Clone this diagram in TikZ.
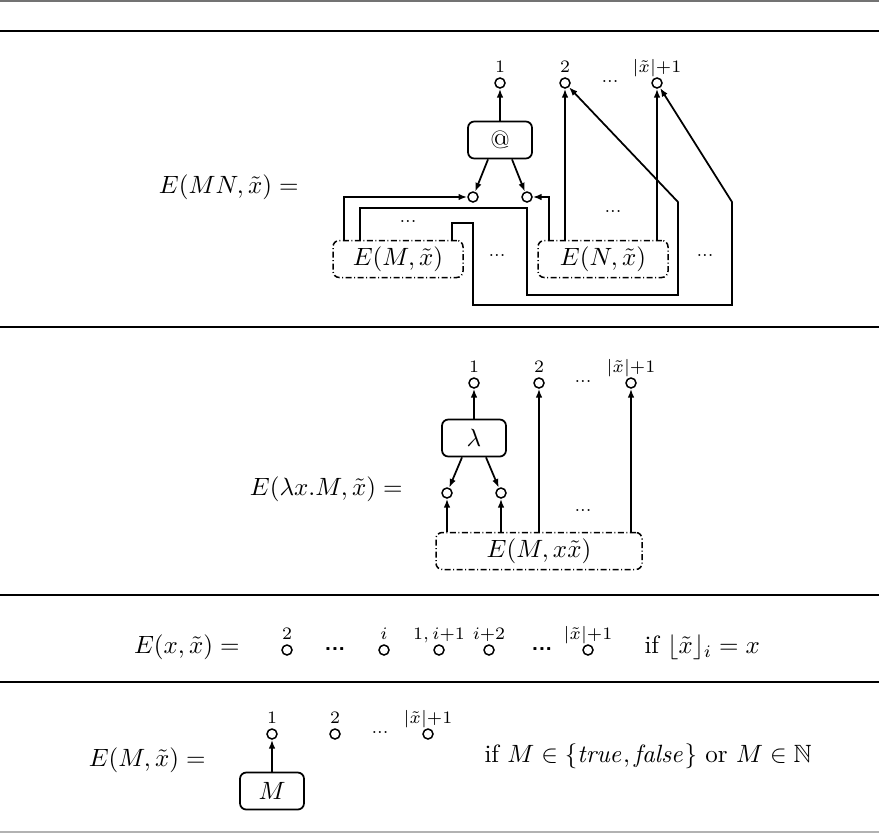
\documentclass[tikz,border=0pt]{standalone}
\usepackage{amsmath,amssymb}
\usetikzlibrary{arrows.meta,calc}

\begin{document}
\begin{tikzpicture}[
  x=0.4pt, y=-0.4pt,
  label distance=1.8pt,
  port/.style={circle, draw, line width=0.6pt, minimum size=4pt, inner sep=0pt},
  lbl/.style={font=\scriptsize, inner sep=0pt, text depth=0pt},
  gate/.style={draw, rounded corners=2.5pt, line width=0.7pt, minimum width=25.6pt,
    minimum height=14.8pt, inner sep=0pt},
  sub/.style={draw, rounded corners=2.5pt, line width=0.6pt,
    dash pattern=on 2.4pt off 1pt on 0.4pt off 1pt, minimum height=14.8pt, inner sep=0pt},
  arrow/.style={-{Latex[length=3.5pt,width=2.6pt]}, line width=0.7pt},
  gap/.style={font=\scriptsize, inner sep=0pt},
  bolddots/.style={font=\small\sffamily\bfseries, inner sep=0pt},
  eqn/.style={inner sep=0pt},
  rule/.style={line width=0.8pt},
]
  \useasboundingbox (0,0) rectangle (879,834);

  % rules between the cases
  \draw[line width=1pt, black!55] (0,1) -- (879,1);
  \draw[rule] (0,31) -- (879,31);
  \draw[rule] (0,327) -- (879,327);
  \draw[rule] (0,595) -- (879,595);
  \draw[rule] (0,682) -- (879,682);
  \draw[line width=0.8pt, black!30] (0,832) -- (879,832);

  % application
  \node[eqn, anchor=east] (eapp) at (299,187) {$E(MN,\tilde{x}) =$};
  \node[port, label={[lbl]above:$1$}] (c1) at (500,83) {};
  \node[port, label={[lbl]above:$2$}] (c2) at (565,83) {};
  \node[gap] (cdots) at (610,81) {...};
  \node[port, label={[lbl]above:$|\tilde{x}|{+}1$}] (cn) at (657,83) {};
  \node[gate] (app) at (500,140) {@};
  \node[port] (cl) at (473,197) {};
  \node[port] (cr) at (527,197) {};
  \node[sub, minimum width=52pt] (em) at (398,259) {$E(M,\tilde{x})$};
  \node[sub, minimum width=52pt] (en) at (603,259) {$E(N,\tilde{x})$};
  \node[gap] (mdots) at (408,221) {...};
  \node[gap] (bdots) at (497,255) {...};
  \node[gap] (ndots) at (613,211) {...};
  \node[gap] (rdots) at (705,255) {...};
  \coordinate (k1) at (527,208);
  \coordinate (k2) at (678,295);
  \coordinate (k3) at (678,202);
  \coordinate (k4) at (473,223);
  \coordinate (k5) at (732,305);
  \coordinate (k6) at (732,202);

  \draw[arrow] (app) -- (c1);
  \draw[arrow] ($(app.south)+(-12,0)$) -- (cl);
  \draw[arrow] ($(app.south)+(12,0)$) -- (cr);
  \draw[arrow] ($(em.north)+(-54,0)$) |- (cl);
  \draw[arrow] ($(em.north)+(-38,0)$) |- (k1) |- (k2) -- (k3) -- (c2);
  \draw[arrow] ($(em.north)+(54,0)$) |- (k4) |- (k5) -- (k6) -- (cn);
  \draw[arrow] ($(en.north)+(-54,0)$) |- (cr);
  \draw[arrow] (c2 |- en.north) -- (c2);
  \draw[arrow] (cn |- en.north) -- (cn);

  % abstraction
  \node[eqn, anchor=east] (elam) at (403,489) {$E(\lambda x.M,\tilde{x}) =$};
  \node[port, label={[lbl]above:$1$}] (d1) at (474,383) {};
  \node[port, label={[lbl]above:$2$}] (d2) at (539,383) {};
  \node[gap] (ddots) at (583,381) {...};
  \node[port, label={[lbl]above:$|\tilde{x}|{+}1$}] (dn) at (631,383) {};
  \node[gate] (lam) at (474,438) {$\lambda$};
  \node[port] (dl) at (447,493) {};
  \node[port] (dr) at (501,493) {};
  \node[sub, minimum width=82.4pt] (emx) at (539,551) {$E(M,x\tilde{x})$};
  \node[gap] (xdots) at (583,510) {...};

  \draw[arrow] (lam) -- (d1);
  \draw[arrow] ($(lam.south)+(-12,0)$) -- (dl);
  \draw[arrow] ($(lam.south)+(12,0)$) -- (dr);
  \draw[arrow] (dl |- emx.north) -- (dl);
  \draw[arrow] (dr |- emx.north) -- (dr);
  \draw[arrow] (d2 |- emx.north) -- (d2);
  \draw[arrow] (dn |- emx.north) -- (dn);

  % variable
  \node[eqn, anchor=east] (evar) at (240,647) {$E(x,\tilde{x}) =$};
  \node[port, label={[lbl]above:$2$}] (v2) at (287,650) {};
  \node[bolddots] (vdotsa) at (335,649) {...};
  \node[port, label={[lbl]above:$i$}] (vi) at (384,650) {};
  \node[port, label={[lbl]above:$1,i{+}1$}] (vi1) at (439,650) {};
  \node[port, label={[lbl]above:$i{+}2$}] (vi2) at (489,650) {};
  \node[bolddots] (vdotsb) at (542,649) {...};
  \node[port, label={[lbl]above:$|\tilde{x}|{+}1$}] (vn) at (588,650) {};
  \node[eqn, anchor=west] (vcond) at (644,647) {if $\lfloor\tilde{x}\rfloor_i = x$};

  % constant
  \node[eqn, anchor=east] (econ) at (206,760) {$E(M,\tilde{x}) =$};
  \node[port, label={[lbl]above:$1$}] (f1) at (272,734) {};
  \node[port, label={[lbl]above:$2$}] (f2) at (335,734) {};
  \node[gap] (fdots) at (380,732) {...};
  \node[port, label={[lbl]above:$|\tilde{x}|{+}1$}] (fn) at (428,734) {};
  \node[gate] (mb) at (272,791) {$M$};
  \node[eqn, anchor=west] (ccond) at (484,756)
    {if $M \in \{\mathit{true},\mathit{false}\}$ or $M \in \mathbb{N}$};

  \draw[arrow] (mb) -- (f1);
\end{tikzpicture}
\end{document}
